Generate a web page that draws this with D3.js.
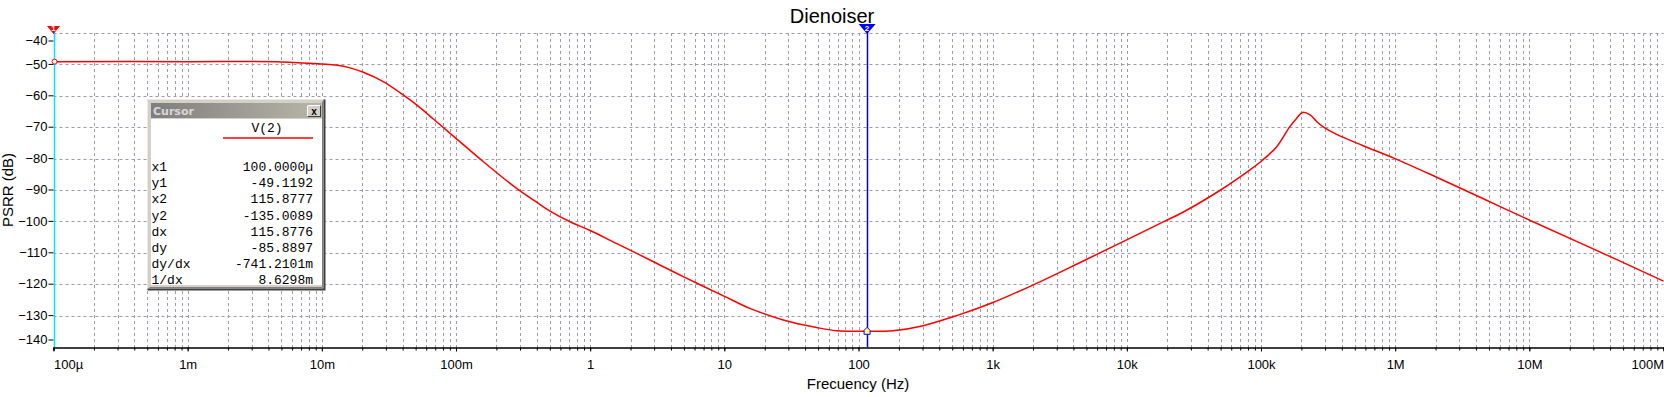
<!DOCTYPE html>
<html>
<head>
<meta charset="utf-8">
<script src="https://d3js.org/d3.v7.min.js"></script>
<style>
  body { margin: 0; background: #fff; }
  svg { display: block; font-family: "Liberation Sans", Arial, sans-serif; }
</style>
</head>
<body>
<div id="chart"></div>
<script>
// PSRR curve (Hz, dB)
var freqHz = [1e-4, 1e-3, 5e-3, 0.01, 0.013, 0.0162, 0.0204, 0.0287, 0.0394, 0.0509, 0.0678, 0.0984,
  0.160, 0.283, 0.399, 0.502, 0.708, 1.0, 1.58, 2.79, 4.94, 9.94, 15.5, 27.5, 48.7, 68.7, 115.9,
  181, 304, 539, 994, 2010, 4730, 9970, 19000, 26400, 50000, 82800, 99400, 131000, 164000, 184000,
  204000, 232000, 260000, 291000, 366000, 578000, 995000, 1.98e6, 4.54e6, 9.93e6, 2.52e7, 1e8];
var psrrDb = [-49.12, -49.12, -49.2, -49.9, -50.3, -51.1, -52.5, -55.5, -59.4, -62.9, -67.4, -73.3,
  -81.0, -89.5, -93.9, -96.7, -100.1, -102.9, -107.1, -112.3, -117.6, -123.8, -127.7, -131.4, -133.8,
  -134.8, -135.0, -134.8, -133.2, -130.0, -125.9, -120.2, -112.6, -105.9, -100.0, -97.0, -90.0, -83.6,
  -81.0, -76.2, -69.8, -67.2, -65.3, -66.1, -68.2, -69.9, -72.3, -75.9, -80.0, -85.7, -92.8, -99.5,
  -107.3, -119.0];

var xTickValues = [1e-4, 1e-3, 1e-2, 1e-1, 1, 10, 100, 1e3, 1e4, 1e5, 1e6, 1e7, 1e8];
var xTickLabels = ["100µ", "1m", "10m", "100m", "1", "10", "100", "1k", "10k", "100k", "1M", "10M", "100M"];
var yTickValues = [-40, -50, -60, -70, -80, -90, -100, -110, -120, -130, -140];

// cursors
var cursorFreq = [100e-6, 115.8777];
var cursorDb = [-49.1192, -135.0089];
var cursorRows = ["x1", "y1", "x2", "y2", "dx", "dy", "dy/dx", "1/dx"];
var cursorValues = ["100.0000µ", "-49.1192", "115.8777", "-135.0089", "115.8776", "-85.8897", "-741.2101m", "8.6298m"];

var width = 1664, height = 397;
var plot = {left: 53.5, right: 1663.5, top: 33, bottom: 347};

var svg = d3.select("#chart").append("svg")
  .attr("width", width)
  .attr("height", height);

var x = d3.scaleLog().domain([1e-4, 1e8]).range([plot.left, plot.right]);
var y = d3.scaleLinear().domain([-140, -40]).range([plot.bottom, plot.top]);

// minor positions 1..9 per decade
var minorValues = [];
for (var k = -4; k < 8; k++) {
  for (var m = 1; m < 10; m++) minorValues.push(m * Math.pow(10, k));
}
minorValues.push(1e8);

var gridColor = "#9c9aab";

// vertical grid
svg.append("g").selectAll("line")
  .data(minorValues.filter(function(d) { return d > 1e-4; }))
  .enter().append("line")
  .attr("x1", function(d) { return Math.round(x(d)) + 0.5; })
  .attr("x2", function(d) { return Math.round(x(d)) + 0.5; })
  .attr("y1", plot.top)
  .attr("y2", plot.bottom)
  .attr("stroke", gridColor)
  .attr("stroke-dasharray", "3,3");

// horizontal grid
svg.append("g").selectAll("line")
  .data(yTickValues.filter(function(d) { return d > -140; }))
  .enter().append("line")
  .attr("x1", plot.left)
  .attr("x2", plot.right)
  .attr("y1", function(d) { return Math.round(y(d)) + 0.5; })
  .attr("y2", function(d) { return Math.round(y(d)) + 0.5; })
  .attr("stroke", gridColor)
  .attr("stroke-dasharray", "3,3");

// x axis: minor ticks then labelled decades
var xMinor = svg.append("g")
  .attr("transform", "translate(0," + (plot.bottom + 0.5) + ")")
  .call(d3.axisBottom(x).tickValues(minorValues).tickSize(3).tickFormat(""));
xMinor.selectAll("line").attr("stroke", "#000");
xMinor.select(".domain").attr("stroke", "#000").attr("stroke-width", 1.5);

var xMajor = svg.append("g")
  .attr("transform", "translate(0," + (plot.bottom + 0.5) + ")")
  .call(d3.axisBottom(x).tickValues(xTickValues).tickSize(4).tickPadding(8)
    .tickFormat(function(d, i) { return xTickLabels[i]; }));
xMajor.select(".domain").remove();
xMajor.selectAll("line").attr("stroke", "#000");
xMajor.selectAll("text")
  .attr("fill", "#000")
  .style("font-size", "13px")
  .style("font-family", "'Liberation Sans', Arial, sans-serif")
  .attr("text-anchor", function(d, i) {
    if (i === 0) return "start";
    if (i === xTickLabels.length - 1) return "end";
    return "middle";
  });

// y axis
var yAxis = svg.append("g")
  .attr("transform", "translate(" + plot.left + ",0)")
  .call(d3.axisLeft(y).tickValues(yTickValues).tickSize(5).tickPadding(1));
yAxis.select(".domain").remove();
yAxis.selectAll("line").attr("stroke", "#000");
yAxis.selectAll(".tick")
  .attr("transform", function(d) {
    var yy = y(d);
    if (d === -40) yy += 8;
    if (d === -140) yy -= 7;
    return "translate(0," + yy + ")";
  });
yAxis.selectAll("text")
  .attr("fill", "#000")
  .style("font-size", "13px")
  .style("font-family", "'Liberation Sans', Arial, sans-serif");

// axis titles
svg.append("text")
  .attr("x", 832)
  .attr("y", 23)
  .attr("text-anchor", "middle")
  .style("font-size", "20px")
  .text("Dienoiser");

svg.append("text")
  .attr("x", 858)
  .attr("y", 389)
  .attr("text-anchor", "middle")
  .style("font-size", "15px")
  .text("Frecuency (Hz)");

svg.append("text")
  .attr("transform", "translate(13," + ((plot.top + plot.bottom) / 2) + ") rotate(-90)")
  .attr("text-anchor", "middle")
  .style("font-size", "15px")
  .text("PSRR (dB)");

// cursor lines
var cursorColors = ["#00e5ff", "#0000e0"];
var markerColors = ["#ff0000", "#0000ff"];
cursorFreq.forEach(function(f, i) {
  var cx = Math.round(x(f)) + 0.5;
  svg.append("line")
    .attr("x1", cx).attr("x2", cx)
    .attr("y1", plot.top - 1).attr("y2", plot.bottom)
    .attr("stroke", cursorColors[i])
    .attr("stroke-width", 1.5);
});

// curve
var line = d3.line()
  .x(function(d) { return x(d[0]); })
  .y(function(d) { return y(d[1]); })
  .curve(d3.curveCatmullRom.alpha(0.5));

svg.append("path")
  .datum(d3.zip(freqHz, psrrDb))
  .attr("fill", "none")
  .attr("stroke", "#ff0000")
  .attr("stroke-width", 1.5)
  .attr("d", line);

// cursor flags at top and markers on curve
cursorFreq.forEach(function(f, i) {
  var cx = x(f);
  var w = i === 0 ? 13 : 17, h = i === 0 ? 7 : 9;
  var top = plot.top - h;
  svg.append("path")
    .attr("d", "M" + (cx - w / 2) + "," + top + "L" + (cx + w / 2) + "," + top + "L" + cx + "," + (plot.top + 1) + "Z")
    .attr("fill", markerColors[i]);
  svg.append("text")
    .attr("x", cx)
    .attr("y", top + h - 2)
    .attr("text-anchor", "middle")
    .attr("fill", "#fff")
    .style("font-size", "8px")
    .style("font-weight", "bold")
    .text(i + 1);
  var cy = y(cursorDb[i]);
  if (i === 0) {
    svg.append("circle")
      .attr("cx", cx + 1).attr("cy", cy)
      .attr("r", 2.5)
      .attr("fill", "#fff")
      .attr("stroke", "#ff0000");
  } else {
    svg.append("path")
      .attr("d", "M" + (cx - 3) + "," + (cy + 3) + "L" + (cx - 3) + "," + (cy - 1) + "L" + cx + "," + (cy - 4) +
        "L" + (cx + 3) + "," + (cy - 1) + "L" + (cx + 3) + "," + (cy + 3) + "Z")
      .attr("fill", "#ffff80")
      .attr("stroke", "#0000ff");
  }
});

// cursor readout window
var box = svg.append("g");
box.append("rect").attr("x", 147.5).attr("y", 99.5).attr("width", 177).attr("height", 190)
  .attr("fill", "#d4d0c8").attr("stroke", "none");
box.append("path").attr("d", "M147.5,289.5V99.5H324.5").attr("fill", "none").attr("stroke", "#ece9e2");
box.append("path").attr("d", "M147.5,289.5H324.5V99.5").attr("fill", "none").attr("stroke", "#404040").attr("stroke-width", 2);
box.append("path").attr("d", "M149.5,287.5H322.5V101.5").attr("fill", "none").attr("stroke", "#808080");

var grad = svg.append("defs").append("linearGradient").attr("id", "tbar");
grad.append("stop").attr("offset", "0%").attr("stop-color", "#7e7e7e");
grad.append("stop").attr("offset", "100%").attr("stop-color", "#b9b6a8");
box.append("rect").attr("x", 151).attr("y", 103).attr("width", 171).attr("height", 15).attr("fill", "url(#tbar)");
box.append("text").attr("x", 153).attr("y", 115)
  .attr("fill", "#d8d8d8")
  .style("font-size", "11px")
  .style("font-weight", "bold")
  .style("font-family", "Verdana, 'DejaVu Sans', sans-serif")
  .text("Cursor");
box.append("rect").attr("x", 307.5).attr("y", 105.5).attr("width", 13).attr("height", 11)
  .attr("fill", "#d4d0c8").attr("stroke", "#404040");
box.append("path").attr("d", "M307.5,116.5V105.5H320.5").attr("fill", "none").attr("stroke", "#fff");
box.append("text").attr("x", 314).attr("y", 115)
  .attr("text-anchor", "middle")
  .style("font-size", "10px")
  .style("font-weight", "bold")
  .text("x");

box.append("rect").attr("x", 151).attr("y", 119).attr("width", 171).attr("height", 166).attr("fill", "#fff");

var mono = "'Liberation Mono', 'Courier New', monospace";
box.append("text").attr("x", 267).attr("y", 131.5)
  .attr("text-anchor", "middle")
  .style("font-family", mono).style("font-size", "13px")
  .text("V(2)");
box.append("line").attr("x1", 223).attr("x2", 313).attr("y1", 138).attr("y2", 138)
  .attr("stroke", "#ff0000").attr("stroke-width", 1.5);

box.selectAll(".rowlabel")
  .data(cursorRows)
  .enter().append("text")
  .attr("x", 151.5)
  .attr("y", function(d, i) { return 171 + i * 16.2; })
  .style("font-family", mono).style("font-size", "13px")
  .text(function(d) { return d; });

box.selectAll(".rowvalue")
  .data(cursorValues)
  .enter().append("text")
  .attr("x", 313)
  .attr("y", function(d, i) { return 171 + i * 16.2; })
  .attr("text-anchor", "end")
  .style("font-family", mono).style("font-size", "13px")
  .text(function(d) { return d; });
</script>
</body>
</html>
